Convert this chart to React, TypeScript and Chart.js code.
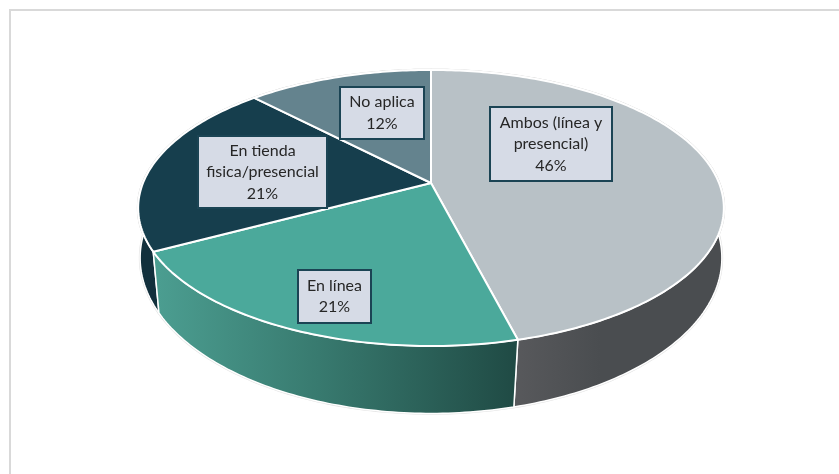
import React, { useEffect, useRef } from "react";
import { Chart, registerables } from "chart.js";

Chart.register(...registerables);

const categories = ["Ambos (línea y presencial)", "En línea", "En tienda fisica/presencial", "No aplica"];
const shares = [46, 21.2, 20.6, 12.2];
const topColors = ["#b8c1c6", "#4ba99b", "#163e4d", "#64838e"];
const labelLines = [["Ambos (línea y", "presencial)"], ["En línea"], ["En tienda", "fisica/presencial"], ["No aplica"]];

const FONT = "16px Lato, 'Open Sans', sans-serif";
const CX = 431;
const TOP = { cy: 183, sy: 133.5, rx: 288, k: 0.181 };
const BOT = { cy: 236.2, sy: 152.4, rx: 288, k: 0.14 };
const BOXES = [
  { x0: 490, y0: 107, x1: 612, y1: 181 },
  { x0: 298, y0: 270, x1: 371, y1: 323 },
  { x0: 198, y0: 136, x1: 327, y1: 208 },
  { x0: 340, y0: 87, x1: 424, y1: 139 },
];

type Disc = { cy: number; sy: number; rx: number; k: number };
const proj = (d: Disc, a: number): [number, number] => {
  const w = 1 - d.k * Math.sin(a);
  return [CX + (d.rx * Math.cos(a)) / w, d.cy + (d.sy * Math.sin(a)) / w];
};
const rim = (ctx: CanvasRenderingContext2D, d: Disc, a0: number, a1: number) => {
  const n = Math.max(2, Math.ceil(Math.abs(a1 - a0) * 60));
  for (let i = 0; i <= n; i++) {
    const [x, y] = proj(d, a0 + ((a1 - a0) * i) / n);
    ctx.lineTo(x, y);
  }
};
const topPath = (ctx: CanvasRenderingContext2D, a0: number, a1: number) => {
  ctx.beginPath();
  ctx.moveTo(CX, TOP.cy);
  rim(ctx, TOP, a0, a1);
  ctx.closePath();
};
const wallPath = (ctx: CanvasRenderingContext2D, a0: number, a1: number) => {
  ctx.beginPath();
  rim(ctx, TOP, a0, a1);
  rim(ctx, BOT, a1, a0);
  ctx.closePath();
};

const pie3d = {
  id: "pie3d",
  beforeDraw(chart: any) {
    const ctx = chart.ctx;
    ctx.save();
    ctx.strokeStyle = "#d9d9d9";
    ctx.lineWidth = 2;
    ctx.strokeRect(10, 10, 1000, 1000);
    ctx.restore();
  },
  beforeDatasetDraw(chart: any) {
    const ctx: CanvasRenderingContext2D = chart.ctx;
    const arcs = chart.getDatasetMeta(0).data;
    const wallFill = (i: number) => {
      const { startAngle: a0, endAngle: a1 } = arcs[i];
      if (i === 1) {
        const g = ctx.createLinearGradient(proj(BOT, a1)[0], 0, proj(BOT, a0)[0], 0);
        g.addColorStop(0, "#4b9d90");
        g.addColorStop(0.45, "#387a6f");
        g.addColorStop(1, "#204b45");
        return g;
      }
      if (i === 0) {
        const g = ctx.createLinearGradient(514, 0, 600, 0);
        g.addColorStop(0, "#58595c");
        g.addColorStop(1, "#4a4d50");
        return g;
      }
      return i === 2 ? "#12303c" : "#4f6a74";
    };
    const order = [3, 2, 0, 1];
    ctx.save();
    ctx.lineJoin = "round";
    ctx.strokeStyle = "#e2e2e2";
    ctx.lineWidth = 2.6;
    arcs.forEach((arc: any) => {
      wallPath(ctx, arc.startAngle, arc.endAngle);
      ctx.stroke();
      topPath(ctx, arc.startAngle, arc.endAngle);
      ctx.stroke();
    });
    order.forEach((i) => {
      wallPath(ctx, arcs[i].startAngle, arcs[i].endAngle);
      ctx.fillStyle = wallFill(i);
      ctx.fill();
      ctx.strokeStyle = "#ffffff";
      ctx.lineWidth = 1.5;
      ctx.stroke();
    });
    arcs.forEach((arc: any, i: number) => {
      topPath(ctx, arc.startAngle, arc.endAngle);
      ctx.fillStyle = topColors[i];
      ctx.fill();
      ctx.strokeStyle = "#ffffff";
      ctx.lineWidth = 2;
      ctx.stroke();
    });
    ctx.restore();
    return false;
  },
  afterDatasetsDraw(chart: any) {
    const ctx: CanvasRenderingContext2D = chart.ctx;
    ctx.save();
    ctx.font = FONT;
    ctx.textAlign = "center";
    ctx.textBaseline = "middle";
    shares.forEach((v, i) => {
      const b = BOXES[i];
      ctx.fillStyle = "#d6dbe6";
      ctx.fillRect(b.x0, b.y0, b.x1 - b.x0, b.y1 - b.y0);
      ctx.strokeStyle = "#1b4454";
      ctx.lineWidth = 2;
      ctx.strokeRect(b.x0, b.y0, b.x1 - b.x0, b.y1 - b.y0);
      const lines = [...labelLines[i], `${Math.round(v)}%`];
      const lh = 21.5;
      const mid = (b.y0 + b.y1) / 2;
      ctx.fillStyle = "#262626";
      lines.forEach((t, j) => {
        ctx.fillText(t, (b.x0 + b.x1) / 2, mid + (j - (lines.length - 1) / 2) * lh);
      });
    });
    ctx.restore();
  },
};

export default function App() {
  const ref = useRef<HTMLCanvasElement>(null);
  useEffect(() => {
    document.body.style.margin = "0";
    const chart = new Chart(ref.current!, {
      type: "pie",
      data: {
        labels: categories,
        datasets: [{ data: shares, backgroundColor: topColors, borderWidth: 0 }],
      },
      options: {
        animation: false,
        responsive: false,
        plugins: { legend: { display: false }, tooltip: { enabled: false } },
      },
      plugins: [pie3d],
    } as any);
    return () => chart.destroy();
  }, []);
  return <canvas ref={ref} width={839} height={474} style={{ display: "block" }} />;
}
